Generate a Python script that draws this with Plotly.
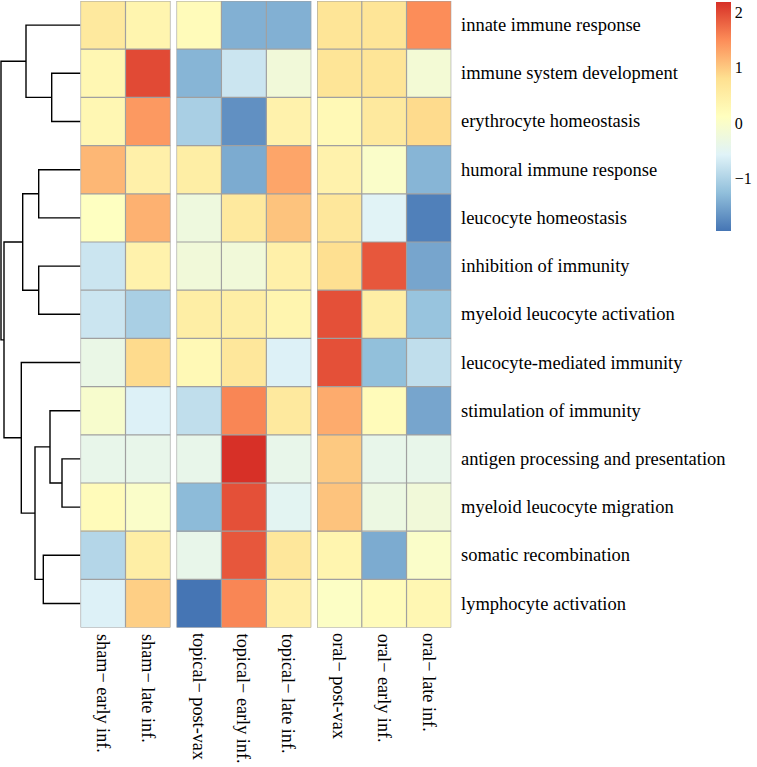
import plotly.graph_objects as go

W, H = 757, 767

row_labels = [
    "innate immune response", "immune system development", "erythrocyte homeostasis",
    "humoral immune response", "leucocyte homeostasis", "inhibition of immunity",
    "myeloid leucocyte activation", "leucocyte-mediated immunity", "stimulation of immunity",
    "antigen processing and presentation", "myeloid leucocyte migration",
    "somatic recombination", "lymphocyte activation",
]

sham_cols = ["sham\u2212 early inf.", "sham\u2212 late inf."]
topical_cols = ["topical\u2212 post-vax", "topical\u2212 early inf.", "topical\u2212 late inf."]
oral_cols = ["oral\u2212 post-vax", "oral\u2212 early inf.", "oral\u2212 late inf."]

# values per row: [sham early, sham late]
sham_vals = [
    [0.60, 0.35], [0.30, 2.00], [0.30, 1.40], [1.15, 0.45], [0.10, 1.20],
    [-0.75, 0.40], [-0.75, -1.05], [-0.35, 0.85], [-0.05, -0.60], [-0.40, -0.40],
    [0.20, 0.00], [-0.95, 0.50], [-0.60, 0.95],
]
topical_vals = [
    [0.20, -1.40, -1.40], [-1.35, -0.75, -0.20], [-1.05, -1.70, 0.40],
    [0.50, -1.45, 1.30], [-0.25, 0.60, 1.05], [-0.20, -0.20, 0.45],
    [0.50, 0.50, 0.35], [0.25, 0.65, -0.60], [-0.85, 1.55, 0.60],
    [-0.40, 2.19, -0.40], [-1.30, 1.95, -0.50], [-0.40, 1.90, 0.65],
    [-1.95, 1.55, 0.45],
]
oral_vals = [
    [0.70, 0.70, 1.50], [0.70, 0.70, -0.15], [0.25, 0.60, 0.85],
    [0.40, 0.00, -1.35], [0.65, -0.55, -1.85], [0.80, 1.90, -1.50],
    [1.95, 0.50, -1.20], [1.95, -1.25, -0.85], [1.25, 0.20, -1.50],
    [1.00, -0.40, -0.40], [1.05, -0.30, -0.20], [0.35, -1.45, 0.00],
    [0.05, 0.20, 0.30],
]

# dendrogram merges: (left, right, height); leaves 0..12, clusters 13..
merges = [
    (1, 2, 28.8),     # 13
    (0, 13, 54.5),    # 14
    (3, 4, 41.8),     # 15
    (5, 6, 41.8),     # 16
    (15, 16, 57.8),   # 17
    (9, 10, 18.5),    # 18
    (8, 18, 30.5),    # 19
    (11, 12, 37.2),   # 20
    (19, 20, 45.5),   # 21
    (7, 21, 59.2),    # 22
    (17, 22, 76.5),   # 23
    (14, 23, 79.5),   # 24
]

cb_ticks = [-1, 0, 1, 2]
zmin, zmax = -1.95, 2.19
colorscale = [[0, "#4575B4"], [1/6, "#91BFDB"], [2/6, "#E0F3F8"], [3/6, "#FFFFBF"],
              [4/6, "#FEE090"], [5/6, "#FC8D59"], [1, "#D73027"]]

FONT = "Liberation Serif"
n_rows = len(row_labels)

def px_x(p):
    return p / W

def px_y(p):
    return 1 - p / H

top_px, bot_px = 1.0, 627.6
ydom = [px_y(bot_px), px_y(top_px)]

groups = [
    (sham_cols, sham_vals, "x", "xaxis", (80.5, 170.5)),
    (topical_cols, topical_vals, "x2", "xaxis2", (176.5, 311.3)),
    (oral_cols, oral_vals, "x3", "xaxis3", (317.0, 451.3)),
]

fig = go.Figure()
layout = dict(
    width=W, height=H, margin=dict(l=0, r=0, t=0, b=0),
    paper_bgcolor="white", plot_bgcolor="white", showlegend=False,
    font=dict(family=FONT, color="black"),
    yaxis=dict(domain=ydom, range=[n_rows - 0.5, -0.5], visible=False, anchor="x", fixedrange=True),
)
shapes, annotations = [], []

for gi, (cols, vals, xref, xkey, (x0, x1)) in enumerate(groups):
    ncol = len(cols)
    fig.add_trace(go.Heatmap(
        z=vals, x=list(range(ncol)), y=list(range(n_rows)),
        colorscale=colorscale, zmin=zmin, zmax=zmax, xaxis=xref, yaxis="y",
        showscale=(gi == 0), hoverinfo="skip",
        colorbar=dict(
            x=px_x(716), xanchor="left", y=px_y(2), yanchor="top",
            thickness=15.3, thicknessmode="pixels", len=228.7, lenmode="pixels",
            outlinewidth=0, tickvals=cb_ticks, ticks="",
            tickfont=dict(family=FONT, size=16, color="black"), ypad=0, xpad=0,
        ),
    ))
    layout[xkey] = dict(domain=[px_x(x0), px_x(x1)], range=[-0.5, ncol - 0.5],
                        visible=False, anchor="y", fixedrange=True)
    for i in range(ncol + 1):
        shapes.append(dict(type="line", xref=xref, yref="y", x0=i - 0.5, x1=i - 0.5,
                           y0=-0.5, y1=n_rows - 0.5, line=dict(color="#A0A0A0", width=1.2)))
    for j in range(n_rows + 1):
        shapes.append(dict(type="line", xref=xref, yref="y", x0=-0.5, x1=ncol - 0.5,
                           y0=j - 0.5, y1=j - 0.5, line=dict(color="#A0A0A0", width=1.2)))
    for i, lab in enumerate(cols):
        annotations.append(dict(text=lab, xref=xref, yref="paper", x=i, y=px_y(632.5),
                                xanchor="center", yanchor="top", textangle=90, showarrow=False,
                                borderpad=0, font=dict(family=FONT, size=18.2, color="black")))

for j, lab in enumerate(row_labels):
    annotations.append(dict(text=lab, xref="paper", yref="y", x=px_x(460), y=j,
                            xanchor="left", yanchor="middle", showarrow=False, borderpad=0,
                            font=dict(family=FONT, size=18.5, color="black")))

# dendrogram
pos = {i: float(i) for i in range(n_rows)}
hgt = {i: 0.0 for i in range(n_rows)}
dx, dy = [], []
for k, (a, b, h) in enumerate(merges):
    cid = n_rows + k
    dx += [hgt[a], h, h, hgt[b], None]
    dy += [pos[a], pos[a], pos[b], pos[b], None]
    pos[cid] = (pos[a] + pos[b]) / 2
    hgt[cid] = h
fig.add_trace(go.Scatter(x=dx, y=dy, mode="lines", xaxis="x4", yaxis="y",
                         line=dict(color="black", width=1.4), hoverinfo="skip", cliponaxis=False))
layout["xaxis4"] = dict(domain=[0, px_x(80.5)], range=[80.5, 0], visible=False, anchor="y",
                        fixedrange=True)

layout["shapes"] = shapes
layout["annotations"] = annotations
fig.update_layout(**layout)
fig.write_html("out.html", config={"displayModeBar": False},
               post_script="document.body.style.margin='0';document.body.style.padding='0';")
